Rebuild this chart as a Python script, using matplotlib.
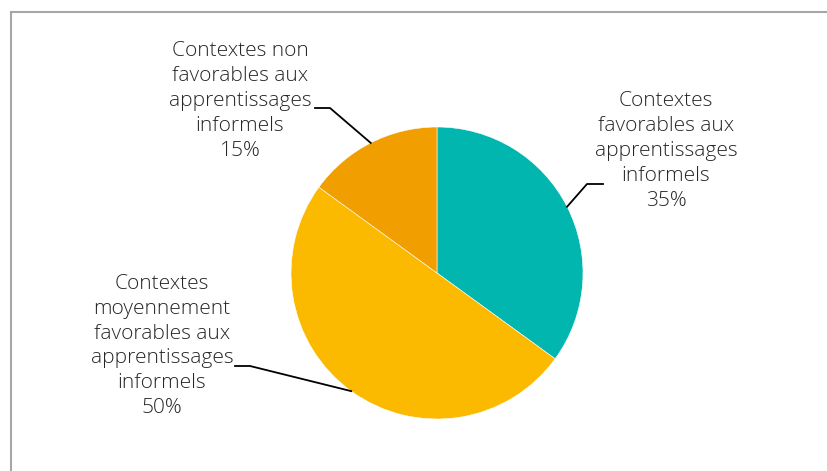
import numpy as np
import matplotlib.pyplot as plt
from matplotlib.patches import Rectangle

# donnees du graphique
categories = ["Contextes\nfavorables aux\napprentissages\ninformels",
              "Contextes\nmoyennement\nfavorables aux\napprentissages\ninformels",
              "Contextes non\nfavorables aux\napprentissages\ninformels"]
valeurs = [35, 50, 15]
couleurs = ["#00B6AE", "#FBBA00", "#F09E00"]

# position des etiquettes (pixels) et coude de la ligne de rappel
pos_texte = [(666, 151), (162, 346), (240, 101)]
coude = [[(603, 184), (587, 184)], [(235, 366), (250, 366)], [(315, 108), (330, 108)]]

W, H = 828, 471
centre = (437, H - 273)
rayon = 146

plt.rcParams['font.family'] = ['Open Sans', 'DejaVu Sans']

fig = plt.figure(figsize=(W / 100, H / 100), dpi=100)
ax = fig.add_axes([0, 0, 1, 1])

# cadre gris
ax.add_patch(Rectangle((11, -20), W + 40, H - 12 + 20, fill=False,
                       edgecolor="#A6A6A6", linewidth=1.5))

wedges, _ = ax.pie(valeurs, colors=couleurs, startangle=90, counterclock=False,
                   center=centre, radius=rayon, frame=True,
                   wedgeprops=dict(edgecolor="white", linewidth=0.4))
ax.set_xlim(0, W)
ax.set_ylim(0, H)
ax.set_aspect("equal")
ax.axis("off")

for w, cat, val, (tx, ty), pts in zip(wedges, categories, valeurs, pos_texte, coude):
    ang = np.deg2rad((w.theta1 + w.theta2) / 2)
    px = centre[0] + rayon * np.cos(ang)
    py = centre[1] + rayon * np.sin(ang)
    xs = [p[0] for p in pts] + [px]
    ys = [H - p[1] for p in pts] + [py]
    ax.plot(xs, ys, color="black", linewidth=1.3)
    ax.text(tx, H - ty, f"{cat}\n{val}%", ha="center", va="center",
            fontsize=15, color="#262626", linespacing=1.32, fontweight="light")

plt.savefig("out.png", dpi=100)
